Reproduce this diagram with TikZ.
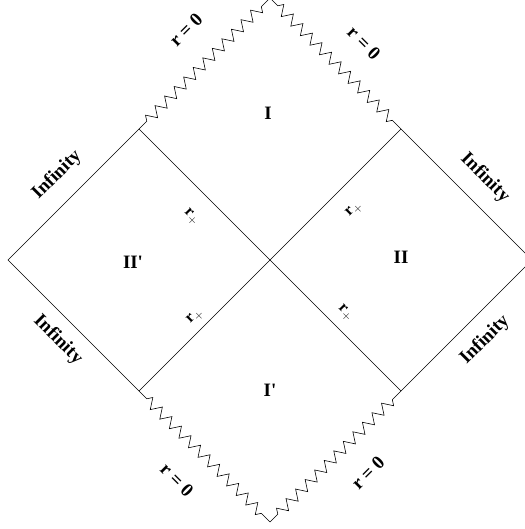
\documentclass[tikz,border=0pt]{standalone}
\usepackage{fontspec}
\setmainfont{Liberation Serif}
\usetikzlibrary{decorations.pathmorphing}
\newcommand{\rplus}{\textbf{r}\raisebox{-0.45ex}{\fontsize{13}{14}\selectfont$+$}}
\begin{document}
\begin{tikzpicture}[x=1bp,y=1bp,
  edge/.style={line width=0.6bp,black},
  sing/.style={edge,decorate,decoration={zigzag,segment length=13.5bp,amplitude=5.2bp,pre=lineto,pre length=11bp,post=lineto,post length=11bp}},
  lab/.style={font=\fontsize{19}{22}\selectfont\bfseries,inner sep=0pt},
  rlab/.style={font=\fontsize{16}{19}\selectfont,inner sep=0pt}]
\useasboundingbox (0,0) rectangle (525,529);
\clip (0,0) rectangle (525,529);
\coordinate (C) at (270,269);
\coordinate (TL) at (139,400);
\coordinate (TR) at (401,400);
\coordinate (BL) at (139,138);
\coordinate (BR) at (401,138);
\coordinate (L) at (8,269);
\coordinate (R) at (532,269);
\coordinate (T) at (270,531);
\coordinate (B) at (270,7);
% null lines
\draw[edge] (TL) -- (L) -- (BL);
\draw[edge] (TR) -- (R) -- (BR);
\draw[edge] (TL) -- (C) -- (BR);
\draw[edge] (BL) -- (C) -- (TR);
% singularities
\draw[sing] (TL) -- (T);
\draw[sing] (T) -- (TR);
\draw[sing] (BL) -- (B);
\draw[sing] (B) -- (BR);
% region labels
\node[lab] (rI) at (268,416) {I};
\node[lab] (rIIp) at (133,267) {II\textquotesingle};
\node[lab] (rII) at (401,272) {II};
\node[lab] (rIp) at (270,139) {I\textquotesingle};
% r = 0
\node[lab,rotate=45] (s1) at (186,499) {r = 0};
\node[lab,rotate=-45] (s2) at (364,486) {r = 0};
\node[lab,rotate=-45] (s3) at (177,49) {r = 0};
\node[lab,rotate=45] (s4) at (368,56) {r = 0};
% infinity
\node[lab,rotate=45] (i1) at (57,354) {Infinity};
\node[lab,rotate=-45] (i2) at (58,189) {Infinity};
\node[lab,rotate=-45] (i3) at (485,351) {Infinity};
\node[lab,rotate=45] (i4) at (485,189) {Infinity};
% horizons
\node[rlab,rotate=-45] (h1) at (191,312) {\rplus};
\node[rlab,rotate=45] (h2) at (354,319) {\rplus};
\node[rlab,rotate=45] (h3) at (195,212) {\rplus};
\node[rlab,rotate=-45] (h4) at (345,216) {\rplus};
\end{tikzpicture}
\end{document}
